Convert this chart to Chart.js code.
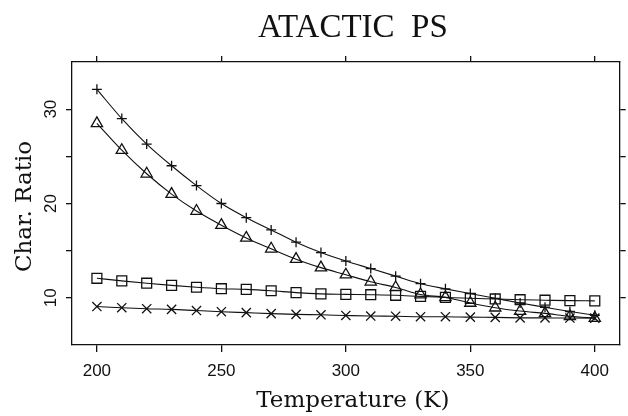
<!DOCTYPE html>
<html>
<head>
<meta charset="utf-8">
<script src="https://cdn.jsdelivr.net/npm/chart.js@4.4.0/dist/chart.umd.min.js"></script>
<style>
html,body{margin:0;padding:0;background:#fff;}
#wrap{width:628px;height:416px;position:relative;}
</style>
</head>
<body>
<div id="wrap"><canvas id="c" width="628" height="416"></canvas></div>
<script>
const chartTitle = 'ATACTIC  PS';
const xAxisTitle = 'Temperature (K)';
const yAxisTitle = 'Char. Ratio';

const temperatures = [200, 210, 220, 230, 240, 250, 260, 270, 280, 290, 300, 310, 320, 330, 340, 350, 360, 370, 380, 390, 400];
const xTickValues = [200, 250, 300, 350, 400];
const yTickValues = [10, 15, 20, 25, 30];
const yLabelValues = [10, 20, 30];

const plusSeries = [32.1, 29.0, 26.3, 24.0, 21.9, 20.0, 18.5, 17.2, 15.9, 14.8, 13.9, 13.1, 12.3, 11.5, 10.95, 10.45, 9.95, 9.45, 9.0, 8.55, 8.15];
const triangleSeries = [28.5, 25.65, 23.15, 21.0, 19.2, 17.7, 16.35, 15.2, 14.1, 13.2, 12.45, 11.7, 11.1, 10.35, 10.05, 9.45, 8.95, 8.6, 8.35, 8.05, 7.85];
const squareSeries = [12.07, 11.8, 11.55, 11.32, 11.12, 10.97, 10.9, 10.75, 10.55, 10.42, 10.37, 10.33, 10.27, 10.15, 10.05, 9.95, 9.88, 9.8, 9.75, 9.7, 9.68];
const crossSeries = [9.08, 8.95, 8.85, 8.78, 8.65, 8.53, 8.43, 8.33, 8.25, 8.2, 8.13, 8.07, 8.05, 8.0, 8.0, 7.95, 7.93, 7.88, 7.87, 7.86, 7.85];

const INK = '#111';

function series(vals, style, radius) {
  return {
    data: temperatures.map((t, i) => ({x: t, y: vals[i]})),
    borderColor: INK,
    borderWidth: 1.1,
    pointStyle: style,
    pointRadius: radius,
    pointHoverRadius: radius,
    pointBorderColor: INK,
    pointBackgroundColor: 'rgba(0,0,0,0)',
    pointBorderWidth: 1.3,
    cubicInterpolationMode: 'monotone',
    fill: false
  };
}

function frameAxis(pos, min, max, ticks, fitFn, extra) {
  const o = {
    type: 'linear',
    position: pos,
    min: min,
    max: max,
    afterBuildTicks: s => { s.ticks = ticks.map(v => ({value: v})); },
    afterFit: fitFn,
    ticks: {display: false},
    grid: {display: true, drawOnChartArea: false, drawTicks: true, tickLength: 6, color: INK, lineWidth: 1.3},
    border: {display: true, color: INK, width: 1.3},
    title: {display: false}
  };
  return Object.assign(o, extra || {});
}

const labelPlugin = {
  id: 'labels',
  afterDraw(chart) {
    const ctx = chart.ctx;
    const ys = chart.scales.y;
    const ca = chart.chartArea;
    const cx = (ca.left + ca.right) / 2 + 7;
    ctx.save();
    ctx.fillStyle = INK;
    // y tick labels (rotated)
    ctx.font = '17px "Liberation Sans"';
    ctx.textAlign = 'center';
    ctx.textBaseline = 'middle';
    yLabelValues.forEach(v => {
      const py = ys.getPixelForValue(v);
      ctx.save();
      ctx.translate(51, py);
      ctx.rotate(-Math.PI / 2);
      ctx.fillText(String(v), 0, 0);
      ctx.restore();
    });
    // chart title
    ctx.font = '33px "Liberation Serif"';
    ctx.textBaseline = 'alphabetic';
    ctx.fillText(chartTitle, cx, 37);
    // x axis title
    ctx.font = '23px "DejaVu Serif"';
    ctx.fillText(xAxisTitle, cx, 407);
    // y axis title
    ctx.save();
    ctx.translate(31, (ca.top + ca.bottom) / 2 + 3);
    ctx.rotate(-Math.PI / 2);
    ctx.fillText(yAxisTitle, 0, 0);
    ctx.restore();
    ctx.restore();
  }
};

new Chart(document.getElementById('c'), {
  type: 'line',
  data: {
    datasets: [
      series(plusSeries, 'cross', 5),
      series(triangleSeries, 'triangle', 6.5),
      series(squareSeries, 'rect', 7),
      series(crossSeries, 'crossRot', 6.5)
    ]
  },
  options: {
    responsive: false,
    animation: false,
    devicePixelRatio: 1,
    layout: {padding: 0},
    plugins: {legend: {display: false}, tooltip: {enabled: false}, title: {display: false}},
    scales: {
      x: frameAxis('bottom', 190, 410, xTickValues, s => { s.height = 71; }, {
        ticks: {display: true, color: INK, padding: 9, font: {family: 'Liberation Sans', size: 17}, maxRotation: 0},
        grid: {display: true, drawOnChartArea: false, drawTicks: true, tickLength: 7, color: INK, lineWidth: 1.3}
      }),
      xTop: frameAxis('top', 190, 410, xTickValues, s => { s.height = 62; }),
      y: frameAxis('left', 5, 35, yTickValues, s => { s.width = 72; }),
      yRight: frameAxis('right', 5, 35, yTickValues, s => { s.width = 4; })
    }
  },
  plugins: [labelPlugin]
});
</script>
</body>
</html>
